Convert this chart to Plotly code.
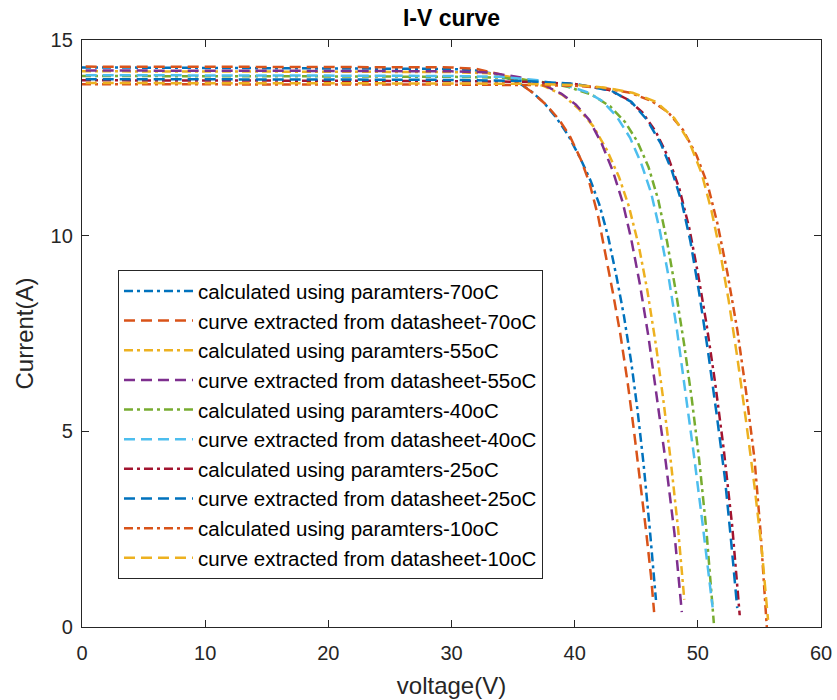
import plotly.graph_objects as go

# ---- data (voltage V, current A) ----
V_calc70 = [0, 10, 20, 30, 32, 34, 35.5, 36.5, 37.5, 38.5, 39.5, 40.5, 41.3, 42.0, 42.7, 43.4, 44.0, 44.6, 45.1, 45.6, 46.1, 46.6]
I_calc70 = [14.3, 14.29, 14.28, 14.26, 14.22, 14.1, 13.9, 13.68, 13.4, 13.02, 12.55, 11.95, 11.4, 10.8, 10.0, 8.95, 7.95, 6.75, 5.55, 4.15, 2.5, 0.69]

V_extr70 = [0.3, 10, 20, 30, 32, 34, 35.5, 36.6, 37.7, 38.7, 39.6, 40.5, 41.2, 41.9, 42.5, 43.1, 43.7, 44.3, 44.8, 45.3, 45.8, 46.2, 46.45]
I_extr70 = [14.32, 14.32, 14.31, 14.3, 14.26, 14.12, 13.9, 13.65, 13.34, 12.98, 12.55, 11.95, 11.35, 10.5, 9.55, 8.55, 7.5, 6.25, 5.05, 3.8, 2.45, 1.3, 0.38]

V_calc55 = [0, 10, 20, 30, 33, 35.5, 37.5, 39.0, 40.3, 41.5, 42.6, 43.6, 44.4, 45.2, 45.9, 46.6, 47.2, 47.8, 48.4, 48.9]
I_calc55 = [14.2, 14.2, 14.19, 14.18, 14.15, 14.02, 13.82, 13.6, 13.25, 12.8, 12.2, 11.5, 10.75, 9.75, 8.6, 7.2, 5.8, 4.25, 2.5, 0.7]

V_extr55 = [0.3, 10, 20, 30, 33, 35.5, 37.5, 38.9, 40.1, 41.2, 42.2, 43.1, 43.9, 44.6, 45.3, 46.0, 46.7, 47.4, 48.1, 48.7]
I_extr55 = [14.22, 14.22, 14.21, 14.2, 14.17, 14.05, 13.85, 13.63, 13.35, 12.95, 12.35, 11.65, 10.85, 9.9, 8.75, 7.4, 5.85, 4.2, 2.4, 0.38]

V_calc40 = [0, 10, 20, 30, 34, 37, 39.5, 41.4, 42.9, 44.1, 45.1, 46.0, 46.8, 47.5, 48.2, 48.9, 49.5, 50.1, 50.7, 51.3]
I_calc40 = [14.08, 14.08, 14.07, 14.06, 14.04, 13.95, 13.8, 13.6, 13.3, 12.9, 12.4, 11.75, 10.9, 9.85, 8.6, 7.2, 5.85, 4.3, 2.45, 0.1]

V_extr40 = [0.3, 10, 20, 30, 34, 37, 39.5, 41.0, 42.2, 43.4, 44.5, 45.4, 46.2, 46.9, 47.6, 48.3, 49.0, 49.7, 50.4, 51.2]
I_extr40 = [14.1, 14.1, 14.09, 14.08, 14.06, 13.97, 13.82, 13.67, 13.45, 13.05, 12.5, 11.85, 11.1, 10.15, 9.0, 7.6, 6.0, 4.35, 2.6, 0.5]

V_calc25 = [0, 10, 20, 30, 36, 40, 42.8, 44.3, 45.5, 46.6, 47.6, 48.5, 49.3, 50.0, 50.7, 51.4, 52.1, 52.8, 53.4]
I_calc25 = [13.97, 13.97, 13.96, 13.95, 13.93, 13.88, 13.72, 13.48, 13.15, 12.65, 12.0, 11.2, 10.2, 9.05, 7.75, 6.25, 4.55, 2.55, 0.3]

V_extr25 = [0.3, 10, 20, 30, 36, 40, 43.0, 44.6, 45.9, 47.0, 47.9, 48.7, 49.4, 50.1, 50.8, 51.5, 52.2, 52.7, 53.2]
I_extr25 = [14.0, 14.0, 13.99, 13.98, 13.95, 13.88, 13.7, 13.42, 12.95, 12.35, 11.65, 10.85, 9.85, 8.55, 7.1, 5.5, 3.8, 2.2, 0.48]

V_calc10 = [0, 10, 20, 30, 36, 40, 42.5, 44.5, 46.2, 47.6, 48.8, 49.9, 50.8, 51.6, 52.4, 53.2, 53.9, 54.6, 55.1, 55.6]
I_calc10 = [13.87, 13.87, 13.86, 13.86, 13.85, 13.83, 13.77, 13.65, 13.45, 13.15, 12.7, 12.05, 11.3, 10.3, 9.05, 7.6, 6.05, 4.3, 2.4, 0.0]

V_extr10 = [0.3, 10, 20, 30, 36, 40, 42.5, 44.7, 46.6, 48.1, 49.3, 50.3, 51.1, 51.8, 52.5, 53.2, 53.9, 54.6, 55.2, 55.7]
I_extr10 = [13.9, 13.9, 13.89, 13.89, 13.88, 13.85, 13.78, 13.65, 13.42, 13.0, 12.4, 11.6, 10.65, 9.6, 8.35, 6.9, 5.3, 3.6, 1.95, 0.18]

names = [
    "calculated using paramters-70oC",
    "curve extracted from datasheet-70oC",
    "calculated using paramters-55oC",
    "curve extracted from datasheet-55oC",
    "calculated using paramters-40oC",
    "curve extracted from datasheet-40oC",
    "calculated using paramters-25oC",
    "curve extracted from datasheet-25oC",
    "calculated using paramters-10oC",
    "curve extracted from datasheet-10oC",
]
series_V = [V_calc70, V_extr70, V_calc55, V_extr55, V_calc40, V_extr40, V_calc25, V_extr25, V_calc10, V_extr10]
series_I = [I_calc70, I_extr70, I_calc55, I_extr55, I_calc40, I_extr40, I_calc25, I_extr25, I_calc10, I_extr10]
colors = ["#0072BD", "#D95319", "#EDB120", "#7E2F8E", "#77AC30",
          "#4DBEEE", "#A2142F", "#0072BD", "#D95319", "#EDB120"]

DASHDOT = "9px,4px,3px,4px"
DASHED = "11px,6px"

fig = go.Figure()
for k, (v, i, n, c) in enumerate(zip(series_V, series_I, names, colors)):
    fig.add_trace(go.Scatter(
        x=v, y=i, mode="lines", name=n, legendgroup=f"g{k}",
        line=dict(color=c, width=2.5, dash=DASHDOT if k % 2 == 0 else DASHED),
    ))

FONT = "Liberation Sans, Arial, Helvetica, sans-serif"
axcol = "#262626"

fig.update_layout(
    width=837, height=700,
    margin=dict(l=82, r=16, t=40, b=73, autoexpand=False),
    paper_bgcolor="white", plot_bgcolor="white",
    font=dict(family=FONT, size=20, color=axcol),
    title=dict(text="<b>I-V curve</b>", x=0.5, xref="paper", xanchor="center",
               y=1 - 18 / 700, yref="container", yanchor="middle",
               font=dict(family=FONT, size=23, color="#000000")),
    showlegend=True,
    legend=dict(x=0.0487, y=0.608, xanchor="left", yanchor="top",
                bgcolor="white", bordercolor=axcol, borderwidth=1,
                font=dict(family=FONT, size=20.5, color="#000000"),
                itemwidth=69, tracegroupgap=0, traceorder="normal"),
)

fig.update_xaxes(
    range=[0, 60], tickvals=[0, 10, 20, 30, 40, 50, 60],
    ticks="inside", ticklen=7, tickcolor=axcol, tickwidth=1,
    showline=True, linecolor=axcol, linewidth=1.3, mirror="ticks",
    showgrid=False, zeroline=False, automargin=False,
    ticklabelstandoff=8,
    tickfont=dict(family=FONT, size=20, color=axcol),
    title=dict(text="voltage(V)", font=dict(family=FONT, size=24, color=axcol), standoff=14),
)
fig.update_yaxes(
    range=[0, 15], tickvals=[0, 5, 10, 15],
    ticks="inside", ticklen=7, tickcolor=axcol, tickwidth=1,
    showline=True, linecolor=axcol, linewidth=1.3, mirror="ticks",
    showgrid=False, zeroline=False, automargin=False,
    ticklabelstandoff=4,
    tickfont=dict(family=FONT, size=20, color=axcol),
    title=dict(text="Current(A)", font=dict(family=FONT, size=24, color=axcol), standoff=10),
)

fig.write_html("out.html")
